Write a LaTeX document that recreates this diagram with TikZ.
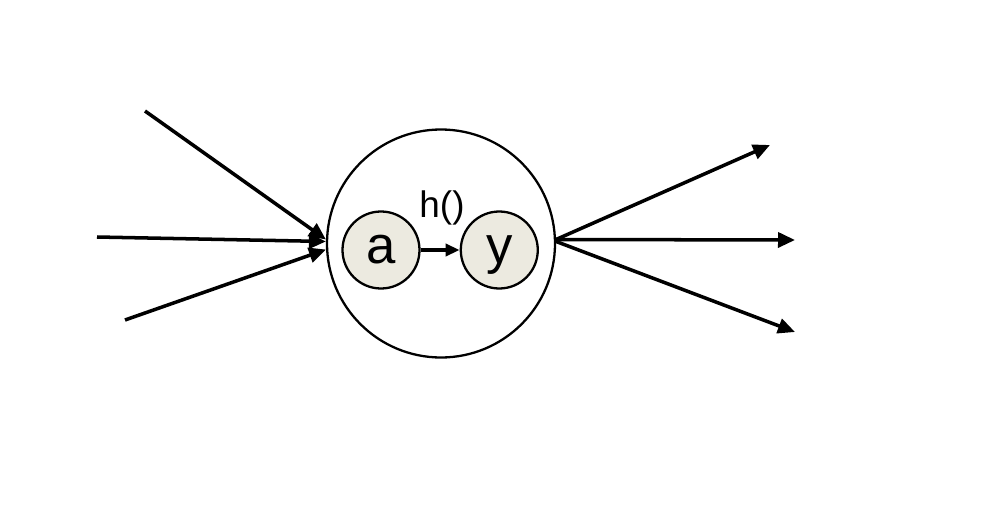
\documentclass[tikz,border=0pt]{standalone}
\usepackage{fontspec}
\setmainfont{Liberation Sans}
\usetikzlibrary{arrows.meta, positioning}

\definecolor{cellfill}{HTML}{ECEAE0}

\begin{document}
\begin{tikzpicture}[
    arrow/.style={-{Triangle[length=0.34cm, width=0.3cm]}, line width=2pt}, % Arrow style
    smallarrow/.style={-{Triangle[length=0.28cm, width=0.24cm]}, line width=2pt},
    neuron/.style={circle, draw, line width=1.3pt, minimum size=4.56cm, inner sep=0pt},
    unit/.style={circle, draw, line width=1.3pt, fill=cellfill, minimum size=1.54cm,
        inner sep=0pt, text height=0.52cm, text depth=0pt,
        font=\fontsize{30}{30}\selectfont}
]
    \useasboundingbox (0,0) rectangle (20,-10.42);

    % Neuron and its inner units
    \node (cell) [neuron] at (8.82,-4.87) {};
    \node (a) [unit] at (7.62,-5.0) {a};
    \node (y) [unit, right=0.78cm of a] {y};
    \node (h) [font=\fontsize{21}{21}\selectfont] at (8.84,-4.16) {h()};

    % Free ends of the inputs
    \coordinate (in1) at (2.9,-2.22);
    \coordinate (in2) at (1.94,-4.74);
    \coordinate (in3) at (2.5,-6.4);

    % Free ends of the outputs
    \coordinate (out1) at (15.4,-2.9);
    \coordinate (out2) at (15.9,-4.8);
    \coordinate (out3) at (15.9,-6.64);

    % Inputs
    \draw[arrow] (in1) -- (cell.178);
    \draw[arrow] (in2) -- (cell.179);
    \draw[arrow] (in3) -- (cell.183);

    % Outputs
    \draw[arrow] (cell.2) -- (out1);
    \draw[arrow] (cell.2) -- (out2);
    \draw[arrow] (cell.1) -- (out3);

    % Inner connection
    \draw[smallarrow] (a.east) -- (y.west);

\end{tikzpicture}
\end{document}
